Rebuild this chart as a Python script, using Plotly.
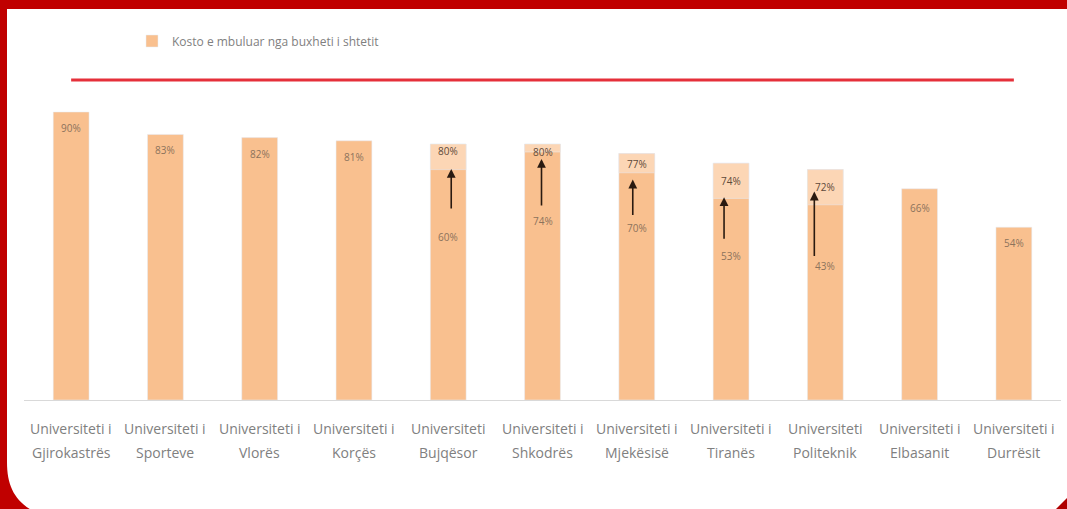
import plotly.graph_objects as go

# ---- data ----
line1 = ["Universiteti i", "Universiteti i", "Universiteti i", "Universiteti i", "Universiteti",
         "Universiteti i", "Universiteti i", "Universiteti i", "Universiteti", "Universiteti i", "Universiteti i"]
line2 = ["Gjirokastrës", "Sporteve", "Vlorës", "Korçës", "Bujqësor", "Shkodrës",
         "Mjekësisë", "Tiranës", "Politeknik", "Elbasanit", "Durrësit"]
categories = [a + " " + b for a, b in zip(line1, line2)]
coverage = [90, 83, 82, 81, 80, 80, 77, 74, 72, 66, 54]
series_name = "Kosto e mbuluar nga buxheti i shtetit"
target = 100

# bars with an arrow: earlier value -> current value
arrow_idx = [4, 5, 6, 7, 8]
earlier = [60, 74, 70, 53, 43]
strip_start = [72, 77.5, 71, 63, 61]   # lower edge of the light top strip as seen

# ---- style ----
MAIN = "#F9C08F"
LIGHT = "#FCD6B5"
RED = "#C00000"
FONT = "Open Sans"
W, H = 1067, 509
ML, MR, MT, MB = 24, 6, 48, 109
PW, PH = W - ML - MR, H - MT - MB

def px(x):
    return (x - ML) / PW

def py(y):
    return (H - MB - y) / PH

fig = go.Figure()
fig.add_trace(go.Bar(x=categories, y=coverage, name=series_name, marker_color=MAIN,
                     width=0.38, hoverinfo="skip"))
fig.add_trace(go.Bar(x=[categories[i] for i in arrow_idx],
                     y=[coverage[i] - s for i, s in zip(arrow_idx, strip_start)],
                     base=strip_start, marker_color=LIGHT, width=0.38,
                     showlegend=False, hoverinfo="skip"))
fig.add_trace(go.Scatter(x=[categories[0], categories[-1]], y=[target, target], mode="lines",
                         line=dict(color="#E5303A", width=3), showlegend=False, hoverinfo="skip"))

ann = []
top_shift = [16, 16, 16, 16, 7, 8, 10, 18, 17, 19, 16]
for i, c in enumerate(categories):
    ann.append(dict(x=c, y=coverage[i], xref="x", yref="y", text=f"{coverage[i]}%",
                    showarrow=False, yshift=-top_shift[i], yanchor="middle",
                    font=dict(family=FONT, size=10,
                              color="#5e4a3a" if i in arrow_idx else "#8c735c")))
    ann.append(dict(x=c, y=py(428), xref="x", yref="paper", text=line1[i], showarrow=False,
                    yanchor="middle", font=dict(family=FONT, size=14, color="#808080")))
    ann.append(dict(x=c, y=py(452), xref="x", yref="paper", text=line2[i], showarrow=False,
                    yanchor="middle", font=dict(family=FONT, size=14, color="#808080")))

low_shift = [29, 58, 52, 26, 4]
head_shift = [25, 15, 26, 34, 22]
arrow_len = [41, 48, 37, 43, 66]
arrow_dx = [3, -1, -4, -7, -11]
for k, i in enumerate(arrow_idx):
    c = categories[i]
    ann.append(dict(x=c, y=earlier[k], xref="x", yref="y", text=f"{earlier[k]}%",
                    showarrow=False, yshift=-low_shift[k], yanchor="middle",
                    font=dict(family=FONT, size=10, color="#8c735c")))
    ann.append(dict(x=c, y=coverage[i], xref="x", yref="y", text="", showarrow=True,
                    ax=0, ay=arrow_len[k], yshift=-head_shift[k], xshift=arrow_dx[k],
                    arrowhead=2, arrowsize=1.1, arrowwidth=1.6, arrowcolor="#2a1a10"))

# slide frame (decoration)
shapes = [
    dict(type="path", xref="paper", yref="paper", layer="below", line=dict(width=0),
         fillcolor=RED,
         path=(f"M {px(-2)},{py(-2)} L {px(1070)},{py(-2)} L {px(1070)},{py(9)} "
               f"L {px(7)},{py(9)} L {px(7)},{py(462)} "
               f"C {px(7)},{py(485)} {px(14)},{py(500)} {px(33)},{py(511)} "
               f"L {px(-2)},{py(511)} Z")),
    dict(type="path", xref="paper", yref="paper", layer="below", line=dict(width=0),
         fillcolor="#B00000",
         path=f"M {px(1070)},{py(495)} L {px(1070)},{py(511)} L {px(1054)},{py(511)} Z"),
]

fig.update_layout(
    width=W, height=H, barmode="overlay",
    margin=dict(l=ML, r=MR, t=MT, b=MB),
    paper_bgcolor="white", plot_bgcolor="rgba(0,0,0,0)",
    font=dict(family=FONT),
    showlegend=True,
    legend=dict(orientation="h", x=px(132), y=py(41), xanchor="left", yanchor="middle",
                bgcolor="rgba(0,0,0,0)", font=dict(family=FONT, size=12, color="#7f7f7f")),
    xaxis=dict(showticklabels=False, showline=True, linecolor="#d9d9d9", linewidth=1,
               ticks="", showgrid=False, zeroline=False, fixedrange=True),
    yaxis=dict(range=[0, 110], visible=False, showgrid=False, zeroline=False, fixedrange=True),
    annotations=ann, shapes=shapes,
)

fig.write_html("out.html", config={"displayModeBar": False},
               post_script="document.body.style.margin='0';document.body.style.background='white';")
